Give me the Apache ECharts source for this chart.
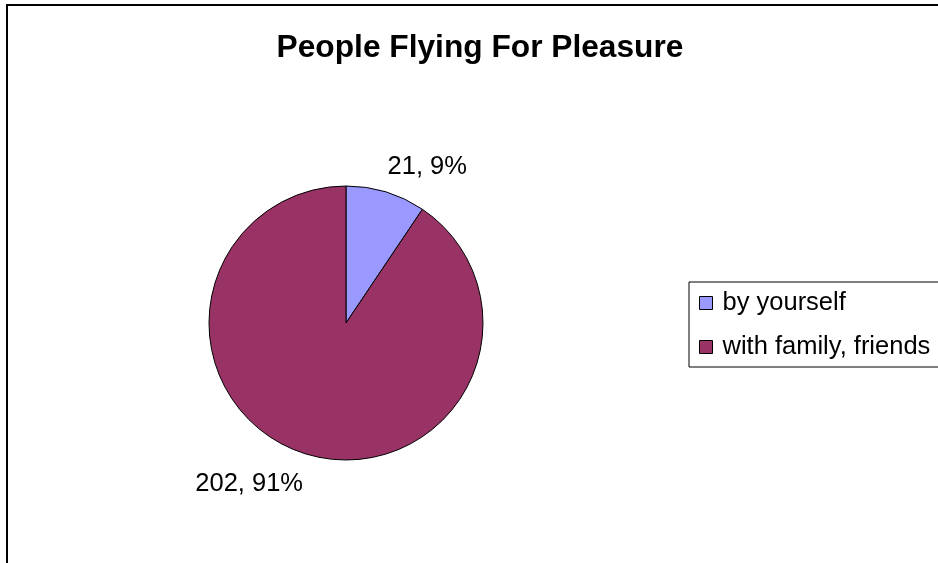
<!DOCTYPE html>
<html><head><meta charset="utf-8">
<script src="https://cdn.jsdelivr.net/npm/echarts@6/dist/echarts.min.js"></script>
<style>html,body{margin:0;padding:0;background:#fff}#c{width:938px;height:563px}</style>
</head><body><div id="c"></div>
<script>
const titleText = 'People Flying For Pleasure';
const categories = ['by yourself', 'with family, friends'];
const values = [21, 202];
const colors = ['#9999FF', '#993366'];

const chart = echarts.init(document.getElementById('c'), null, {renderer: 'canvas'});
const total = values.reduce((a, b) => a + b, 0);
const labelLens = [26, 31];
chart.setOption({
  animation: false,
  backgroundColor: '#fff',
  title: {
    text: titleText, left: 475, top: 27, textAlign: 'center',
    textStyle: {fontFamily: 'Liberation Sans, Arial', fontWeight: 'bold', fontSize: 31.7, color: '#000'}
  },
  legend: {
    orient: 'vertical', left: 689, top: 282,
    padding: [8, 200, 7, 10],
    borderColor: '#000', borderWidth: 1,
    itemWidth: 13, itemHeight: 13, itemGap: 18,
    icon: 'rect',
    itemStyle: {borderColor: '#000', borderWidth: 1},
    textStyle: {fontFamily: 'Liberation Sans, Arial', fontSize: 25.5, color: '#000', padding: [0, 0, 0, 5]},
    data: categories
  },
  graphic: [{
    type: 'rect', silent: true,
    shape: {x: 7, y: 5, width: 1200, height: 1200},
    style: {fill: 'none', stroke: '#000', lineWidth: 2}
  }],
  series: [{
    type: 'pie', center: [346, 323], radius: 137,
    startAngle: 90, clockwise: true,
    itemStyle: {borderColor: '#000', borderWidth: 1},
    label: {
      show: true, position: 'outside', distanceToLabelLine: -6,
      fontFamily: 'Liberation Sans, Arial', fontSize: 25.5, color: '#000',
      formatter: p => p.value + ', ' + Math.round(p.value / total * 100) + '%'
    },
    labelLine: {show: false, length: 28, length2: 0},
    emphasis: {disabled: true},
    data: categories.map((c, i) => ({
      name: c, value: values[i],
      itemStyle: {color: colors[i]},
      labelLine: {show: false, length: labelLens[i], length2: 0}
    }))
  }]
});
</script></body></html>
